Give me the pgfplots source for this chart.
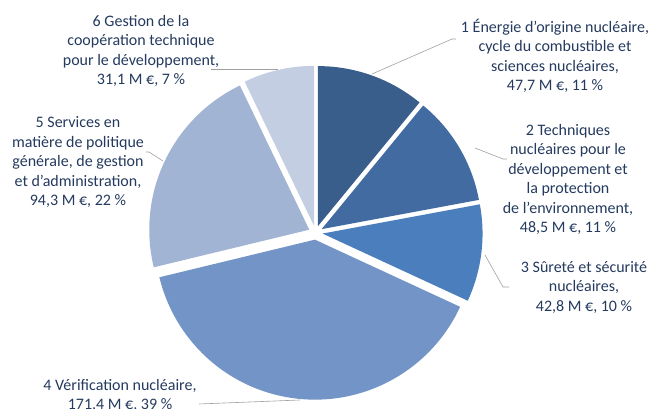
\documentclass[border=0pt]{standalone}
\usepackage{fontspec}
\setmainfont{Carlito}
\usepackage{pgfplots}
\pgfplotsset{compat=1.18}
\usepackage{pgfplotstable}
\definecolor{cA}{RGB}{58,94,140}
\definecolor{cB}{RGB}{66,107,162}
\definecolor{cC}{RGB}{75,126,188}
\definecolor{cD}{RGB}{115,148,198}
\definecolor{cE}{RGB}{162,180,212}
\definecolor{cF}{RGB}{196,206,226}
\definecolor{txt}{RGB}{36,58,94}
\definecolor{lead}{RGB}{160,160,160}
\tikzset{lbl/.style={font=\fontsize{16}{19.5}\selectfont, text=txt, align=center, inner sep=0pt}}
\pgfplotstableread{
idx value
1 47.7
2 48.5
3 42.8
4 171.4
5 94.3
6 31.1
}\budget
\newcommand\getv[2]{\pgfplotstablegetelem{#1}{value}\of\budget\global\let#2\pgfplotsretval}
\def\cx{315.6}\def\cy{176.3}\def\R{160}\def\ex{7}
\newcommand\slice[3]{%
  \addplot[fill=#3, draw=none, domain={#2-1}:{#1+1}, samples=220, variable=\t]
   ({\cx+\ex*cos((#1+#2)/2)+((\t<#2-0.9 || \t>#1+0.9) ? 0 : \R)*cos(max(#2,min(#1,\t)))},
    {\cy+\ex*sin((#1+#2)/2)+((\t<#2-0.9 || \t>#1+0.9) ? 0 : \R)*sin(max(#2,min(#1,\t)))});
}
\begin{document}%
\begin{tikzpicture}
\getv{0}\vA\getv{1}\vB\getv{2}\vC\getv{3}\vD\getv{4}\vE\getv{5}\vF
\pgfmathsetmacro\tot{\vA+\vB+\vC+\vD+\vE+\vF}
\pgfmathsetmacro\aA{90}
\pgfmathsetmacro\aB{\aA-360*(\vA/\tot)}
\pgfmathsetmacro\aC{\aB-360*(\vB/\tot)}
\pgfmathsetmacro\aD{\aC-360*(\vC/\tot)}
\pgfmathsetmacro\aE{\aD-360*(\vD/\tot)}
\pgfmathsetmacro\aF{\aE-360*(\vE/\tot)}
\pgfmathsetmacro\aG{\aF-360*(\vF/\tot)}
\useasboundingbox (0,0) rectangle (651pt,409pt);
\clip (0,0) rectangle (651pt,409pt);
\begin{axis}[hide axis, at={(0,0)}, anchor=south west, width=651pt, height=409pt, scale only axis, xmin=0, xmax=651, ymin=0, ymax=409,
  clip=false]
\slice{\aA}{\aB}{cA}
\slice{\aB}{\aC}{cB}
\slice{\aC}{\aD}{cC}
\slice{\aD}{\aE}{cD}
\slice{\aE}{\aF}{cE}
\slice{\aF}{\aG}{cF}
% leader lines (pixel x, 409 - pixel y)
\addplot[lead, line width=0.6pt] coordinates {(372,335) (452,370) (456,370)};
\addplot[lead, line width=0.6pt] coordinates {(475,261) (503,250) (507,250)};
\addplot[lead, line width=0.6pt] coordinates {(485,154) (503,122) (509,122)};
\addplot[lead, line width=0.6pt] coordinates {(300,9) (199,5)};
\addplot[lead, line width=0.6pt] coordinates {(163,248) (149,257) (146,257)};
\addplot[lead, line width=0.6pt] coordinates {(278,340) (211,340)};
\node[lbl] at (axis cs:555,353) {1 Énergie d’origine nucléaire,\\cycle du combustible et\\sciences nucléaires,\\47,7 M €, 11 \%};
\node[lbl] at (axis cs:568,229.5) {2 Techniques\\nucléaires pour le\\développement et\\la protection\\de l’environnement,\\48,5 M €, 11 \%};
\node[lbl] at (axis cs:584,121.5) {3 Sûreté et sécurité\\nucléaires,\\42,8 M €, 10 \%};
\node[lbl] at (axis cs:120,13.5) {4 Vérification nucléaire,\\171,4 M €, 39 \%};
\node[lbl] at (axis cs:78,246.5) {5 Services en\\matière de politique\\générale, de gestion\\et d’administration,\\94,3 M €, 22 \%};
\node[lbl] at (axis cs:141,358) {6 Gestion de la\\coopération technique\\pour le développement,\\31,1 M €, 7 \%};
\end{axis}
\end{tikzpicture}%
\end{document}
